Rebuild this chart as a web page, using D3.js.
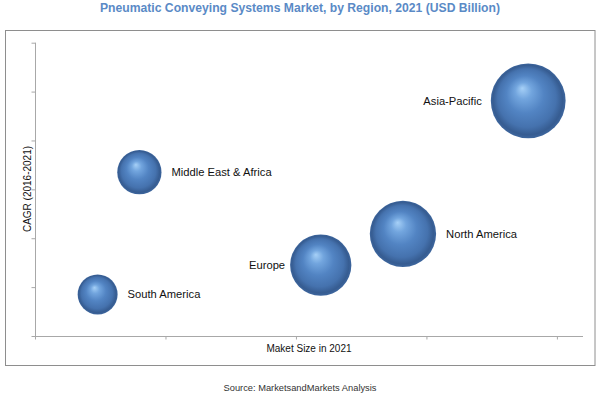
<!DOCTYPE html>
<html>
<head>
<meta charset="utf-8">
<script src="https://cdn.jsdelivr.net/npm/d3@7"></script>
<style>
html,body{margin:0;padding:0;background:#fff;}
svg{display:block;font-family:"Liberation Sans",Arial,sans-serif;}
</style>
</head>
<body>
<svg id="chart" width="600" height="396"></svg>
<script>
// ---- data ----
const regions = ["South America", "Middle East & Africa", "Europe", "North America", "Asia-Pacific"];
const marketSize = [0.48, 0.80, 2.19, 2.82, 3.78];   // x (relative units)
const cagr = [0.85, 3.35, 1.45, 2.09, 4.81];         // y (relative units)
const bubbleSize = [0.40, 0.49, 0.94, 1.10, 1.40];   // bubble area
const xTicks = [0, 1, 2, 3, 4];
const yTicks = [0, 1, 2, 3, 4, 5, 6];
const labelSide = ["right", "right", "left", "right", "left"];

const svg = d3.select("#chart");

// gradient
const defs = svg.append("defs");
const g = defs.append("radialGradient").attr("id", "sphere")
  .attr("cx", "50%").attr("cy", "50%").attr("r", "50%")
  .attr("fx", "42%").attr("fy", "33%");
[[0, "#a6d0f7"], [0.22, "#72a5de"], [0.5, "#5284c3"], [0.78, "#4572ae"], [0.93, "#365c91"], [1, "#3d669e"]]
  .forEach(([o, c]) => g.append("stop").attr("offset", o).attr("stop-color", c));

// outer border
svg.append("rect").attr("x", 5.5).attr("y", 30.5).attr("width", 589.5).attr("height", 335)
  .attr("fill", "none").attr("stroke", "#8e8e8e").attr("stroke-width", 1);

// title
svg.append("text").attr("x", 300).attr("y", 12).attr("text-anchor", "middle")
  .attr("font-size", 12).attr("font-weight", "bold").attr("fill", "#5a8ac6")
  .attr("textLength", 400).attr("lengthAdjust", "spacingAndGlyphs")
  .text("Pneumatic Conveying Systems Market, by Region, 2021 (USD Billion)");

// scales
const x = d3.scaleLinear().domain([0, 4.2]).range([35, 583]);
const y = d3.scaleLinear().domain([0, 6]).range([336, 42.7]);
const r = d3.scaleSqrt().domain([0, 1.40]).range([0, 37.4]);

// axes
const xAxis = svg.append("g").attr("transform", "translate(0,336.5)")
  .call(d3.axisBottom(x).tickValues(xTicks).tickSize(3).tickFormat(""));
const yAxis = svg.append("g").attr("transform", "translate(35.5,0)")
  .call(d3.axisLeft(y).tickValues(yTicks).tickSize(4).tickFormat(""));
[xAxis, yAxis].forEach(a => {
  a.select(".domain").attr("stroke", "#a8a8a8");
  a.selectAll(".tick line").attr("stroke", "#a8a8a8");
});
xAxis.select(".domain").attr("d", `M${x(0)},0H${x(4.2)}`);
yAxis.select(".domain").attr("d", `M0,${y(6)}V${y(0)}`);

// axis titles
svg.append("text").attr("x", 309).attr("y", 352).attr("text-anchor", "middle")
  .attr("font-size", 10).attr("fill", "#111").text("Maket Size in 2021");
svg.append("text").attr("transform", "translate(31,189) rotate(-90)").attr("text-anchor", "middle")
  .attr("font-size", 10).attr("fill", "#111").text("CAGR (2016-2021)");

// source
svg.append("text").attr("x", 300).attr("y", 391).attr("text-anchor", "middle")
  .attr("font-size", 9.3).attr("fill", "#333").text("Source: MarketsandMarkets Analysis");

// bubbles
const data = regions.map((n, i) => ({ n, x: marketSize[i], y: cagr[i], s: bubbleSize[i], side: labelSide[i] }));
const node = svg.append("g").selectAll("g").data(data).join("g");
node.append("circle")
  .attr("cx", d => x(d.x)).attr("cy", d => y(d.y)).attr("r", d => r(d.s))
  .attr("fill", "url(#sphere)");
node.append("text")
  .attr("x", d => d.side === "right" ? x(d.x) + r(d.s) + 10 : x(d.x) - r(d.s) - (d.n === "Europe" ? 5 : 9))
  .attr("y", d => y(d.y) + 4)
  .attr("text-anchor", d => d.side === "right" ? "start" : "end")
  .attr("font-size", 11.2).attr("fill", "#111")
  .text(d => d.n);
</script>
</body>
</html>
